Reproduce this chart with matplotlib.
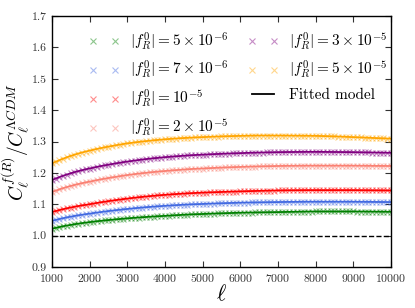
import numpy as np
import matplotlib
matplotlib.use("Agg")
import matplotlib.pyplot as plt
from matplotlib.lines import Line2D
from matplotlib.legend_handler import HandlerLine2D

plt.rcParams['font.family'] = 'serif'
plt.rcParams['font.serif'] = ['cmr10']
plt.rcParams['mathtext.fontset'] = 'cm'
plt.rcParams['axes.formatter.use_mathtext'] = True

# multipoles, step 100
ell = np.arange(1000, 10001, 100)

# ratio C_l^{f(R)} / C_l^{LCDM}
ratio_5e6 = [
    1.0220, 1.0248, 1.0274, 1.0299, 1.0322, 1.0343, 1.0363, 1.0382, 1.0399, 1.0415,
    1.0430, 1.0445, 1.0459, 1.0472, 1.0484, 1.0496, 1.0508, 1.0519, 1.0530, 1.0540,
    1.0550, 1.0560, 1.0569, 1.0578, 1.0587, 1.0595, 1.0603, 1.0610, 1.0617, 1.0624,
    1.0630, 1.0638, 1.0645, 1.0652, 1.0659, 1.0665, 1.0671, 1.0677, 1.0682, 1.0686,
    1.0690, 1.0695, 1.0700, 1.0704, 1.0708, 1.0712, 1.0716, 1.0720, 1.0723, 1.0727,
    1.0730, 1.0733, 1.0735, 1.0737, 1.0739, 1.0741, 1.0743, 1.0745, 1.0747, 1.0749,
    1.0750, 1.0753, 1.0755, 1.0757, 1.0759, 1.0761, 1.0763, 1.0765, 1.0767, 1.0769,
    1.0770, 1.0770, 1.0770, 1.0770, 1.0770, 1.0770, 1.0770, 1.0770, 1.0770, 1.0770,
    1.0770, 1.0769, 1.0768, 1.0767, 1.0766, 1.0765, 1.0764, 1.0763, 1.0762, 1.0761,
    1.0760]
ratio_7e6 = [
    1.0470, 1.0501, 1.0530, 1.0556, 1.0582, 1.0605, 1.0627, 1.0647, 1.0666, 1.0684,
    1.0700, 1.0718, 1.0736, 1.0752, 1.0768, 1.0783, 1.0797, 1.0811, 1.0825, 1.0838,
    1.0850, 1.0862, 1.0874, 1.0885, 1.0896, 1.0906, 1.0916, 1.0925, 1.0934, 1.0942,
    1.0950, 1.0958, 1.0965, 1.0972, 1.0979, 1.0985, 1.0991, 1.0997, 1.1002, 1.1006,
    1.1010, 1.1015, 1.1020, 1.1024, 1.1028, 1.1032, 1.1036, 1.1040, 1.1043, 1.1047,
    1.1050, 1.1053, 1.1055, 1.1057, 1.1059, 1.1061, 1.1063, 1.1065, 1.1067, 1.1069,
    1.1070, 1.1072, 1.1074, 1.1075, 1.1076, 1.1077, 1.1078, 1.1079, 1.1080, 1.1080,
    1.1080, 1.1080, 1.1080, 1.1080, 1.1080, 1.1080, 1.1080, 1.1080, 1.1080, 1.1080,
    1.1080, 1.1079, 1.1078, 1.1077, 1.1076, 1.1075, 1.1074, 1.1073, 1.1072, 1.1071,
    1.1070]
ratio_1e5 = [
    1.0750, 1.0784, 1.0815, 1.0844, 1.0871, 1.0897, 1.0921, 1.0943, 1.0964, 1.0982,
    1.1000, 1.1022, 1.1043, 1.1063, 1.1081, 1.1099, 1.1117, 1.1133, 1.1149, 1.1165,
    1.1180, 1.1195, 1.1209, 1.1222, 1.1235, 1.1247, 1.1259, 1.1270, 1.1281, 1.1291,
    1.1300, 1.1309, 1.1318, 1.1326, 1.1334, 1.1341, 1.1348, 1.1354, 1.1360, 1.1365,
    1.1370, 1.1375, 1.1380, 1.1384, 1.1388, 1.1392, 1.1396, 1.1400, 1.1403, 1.1407,
    1.1410, 1.1414, 1.1418, 1.1421, 1.1424, 1.1427, 1.1430, 1.1433, 1.1435, 1.1438,
    1.1440, 1.1442, 1.1444, 1.1445, 1.1446, 1.1447, 1.1448, 1.1449, 1.1450, 1.1450,
    1.1450, 1.1450, 1.1450, 1.1450, 1.1450, 1.1450, 1.1450, 1.1450, 1.1450, 1.1450,
    1.1450, 1.1449, 1.1448, 1.1447, 1.1446, 1.1445, 1.1444, 1.1443, 1.1442, 1.1441,
    1.1440]
ratio_2e5 = [
    1.1390, 1.1434, 1.1475, 1.1514, 1.1550, 1.1584, 1.1615, 1.1644, 1.1672, 1.1697,
    1.1720, 1.1746, 1.1770, 1.1793, 1.1815, 1.1836, 1.1856, 1.1875, 1.1894, 1.1913,
    1.1930, 1.1946, 1.1961, 1.1976, 1.1990, 1.2003, 1.2016, 1.2028, 1.2039, 1.2050,
    1.2060, 1.2070, 1.2080, 1.2089, 1.2098, 1.2107, 1.2115, 1.2123, 1.2130, 1.2135,
    1.2140, 1.2146, 1.2152, 1.2158, 1.2163, 1.2168, 1.2173, 1.2178, 1.2182, 1.2186,
    1.2190, 1.2194, 1.2198, 1.2201, 1.2204, 1.2207, 1.2210, 1.2213, 1.2215, 1.2218,
    1.2220, 1.2222, 1.2224, 1.2225, 1.2226, 1.2227, 1.2228, 1.2229, 1.2230, 1.2230,
    1.2230, 1.2230, 1.2230, 1.2230, 1.2230, 1.2230, 1.2230, 1.2230, 1.2230, 1.2230,
    1.2230, 1.2229, 1.2228, 1.2227, 1.2226, 1.2225, 1.2224, 1.2223, 1.2222, 1.2221,
    1.2220]
ratio_3e5 = [
    1.1770, 1.1820, 1.1866, 1.1909, 1.1949, 1.1988, 1.2023, 1.2055, 1.2086, 1.2114,
    1.2140, 1.2167, 1.2193, 1.2217, 1.2239, 1.2261, 1.2283, 1.2303, 1.2323, 1.2342,
    1.2360, 1.2377, 1.2393, 1.2410, 1.2425, 1.2439, 1.2453, 1.2466, 1.2477, 1.2489,
    1.2500, 1.2510, 1.2520, 1.2529, 1.2538, 1.2547, 1.2555, 1.2563, 1.2570, 1.2575,
    1.2580, 1.2586, 1.2592, 1.2598, 1.2603, 1.2608, 1.2613, 1.2618, 1.2622, 1.2626,
    1.2630, 1.2634, 1.2638, 1.2641, 1.2644, 1.2647, 1.2650, 1.2653, 1.2655, 1.2658,
    1.2660, 1.2662, 1.2664, 1.2665, 1.2666, 1.2667, 1.2668, 1.2669, 1.2670, 1.2670,
    1.2670, 1.2670, 1.2669, 1.2668, 1.2667, 1.2666, 1.2665, 1.2664, 1.2663, 1.2662,
    1.2660, 1.2658, 1.2656, 1.2654, 1.2652, 1.2650, 1.2648, 1.2646, 1.2644, 1.2642,
    1.2640]
ratio_5e5 = [
    1.2300, 1.2355, 1.2406, 1.2454, 1.2499, 1.2541, 1.2580, 1.2616, 1.2650, 1.2681,
    1.2710, 1.2738, 1.2765, 1.2790, 1.2814, 1.2837, 1.2859, 1.2880, 1.2901, 1.2921,
    1.2940, 1.2956, 1.2971, 1.2986, 1.3000, 1.3013, 1.3026, 1.3038, 1.3049, 1.3060,
    1.3070, 1.3079, 1.3088, 1.3096, 1.3104, 1.3111, 1.3118, 1.3124, 1.3130, 1.3135,
    1.3140, 1.3145, 1.3150, 1.3155, 1.3159, 1.3163, 1.3167, 1.3171, 1.3174, 1.3177,
    1.3180, 1.3183, 1.3185, 1.3187, 1.3189, 1.3190, 1.3191, 1.3191, 1.3191, 1.3190,
    1.3190, 1.3190, 1.3189, 1.3188, 1.3187, 1.3186, 1.3185, 1.3184, 1.3183, 1.3182,
    1.3180, 1.3177, 1.3174, 1.3171, 1.3167, 1.3163, 1.3159, 1.3155, 1.3150, 1.3145,
    1.3140, 1.3135, 1.3130, 1.3125, 1.3120, 1.3115, 1.3110, 1.3105, 1.3100, 1.3095,
    1.3090]

labels = [r'$|f_R^0| = 5\times10^{-6}$', r'$|f_R^0| = 7\times10^{-6}$',
          r'$|f_R^0| = 10^{-5}$', r'$|f_R^0| = 2\times10^{-5}$',
          r'$|f_R^0| = 3\times10^{-5}$', r'$|f_R^0| = 5\times10^{-5}$']
series = [ratio_5e6, ratio_7e6, ratio_1e5, ratio_2e5, ratio_3e5, ratio_5e5]
colors = ['green', 'royalblue', 'red', 'salmon', 'purple', 'orange']

fig = plt.figure(figsize=(4.15, 3.08), dpi=100)
ax = fig.add_axes([0.125, 0.133, 0.817, 0.815])

for vals, lab, c in zip(series, labels, colors):
    ax.plot(ell, vals, ls='none', marker='x', ms=4.5, mew=0.8, color=c, alpha=0.45,
            label=lab)
for vals, c in zip(series, colors):
    ax.plot(ell, vals, '-', color=c, lw=1.3)
ax.plot([], [], 'k-', lw=1.3, label=r'Fitted model')
ax.axhline(1.0, color='k', ls='--', lw=1.0)

ax.set_xlim(1000, 10000)
ax.set_ylim(0.9, 1.7)
ax.set_xticks(np.arange(1000, 10001, 1000))
ax.set_yticks(np.arange(0.9, 1.71, 0.1))
ax.yaxis.set_major_formatter(plt.FormatStrFormatter('%.1f'))
ax.tick_params(direction='in', top=True, right=True, length=4, width=0.8,
               labelsize=8.5, colors='#333333', labelcolor='#333333')
for s in ax.spines.values():
    s.set_linewidth(1.0)

ax.set_xlabel(r'$\ell$', fontsize=16, labelpad=0)
ax.set_ylabel(r'$C_\ell^{f(R)}/C_\ell^{\Lambda CDM}$', fontsize=14, labelpad=0)

ax.legend(loc='upper center', ncol=2, frameon=False, numpoints=2, fontsize=11,
          handlelength=1.45, handletextpad=1.0, columnspacing=1.5,
          labelspacing=0.45, bbox_to_anchor=(0.555, 1.0), borderaxespad=0.8,
          borderpad=0.15,
          handler_map={Line2D: HandlerLine2D(marker_pad=0)})

fig.savefig('out.png', dpi=100)
